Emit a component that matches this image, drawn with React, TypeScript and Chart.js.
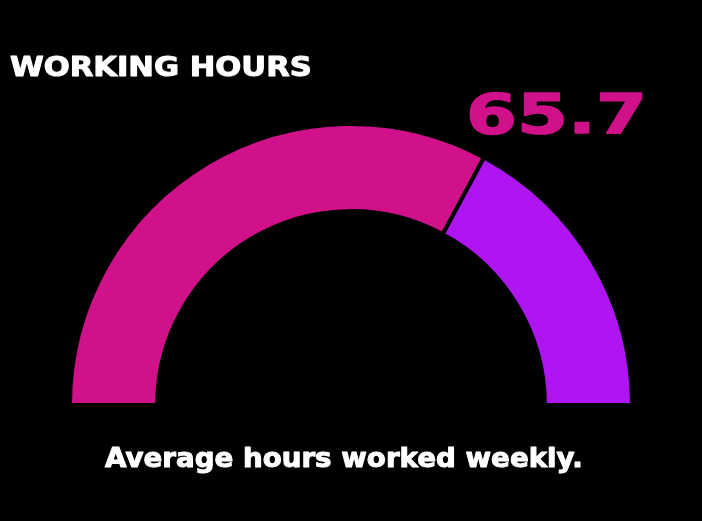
import React, { useEffect, useLayoutEffect, useRef, useState } from "react";
import { Chart, registerables } from "chart.js";

Chart.register(...registerables);

const segmentLabels = ["Hours worked", "Remaining"];
const segmentValues = [65.7, 34.3];
const segmentColors = ["#D0118A", "#AE15F1"];
const titleText = "WORKING HOURS";
const valueText = "65.7";
const captionText = "Average hours worked weekly.";

const FONT = "'DejaVu Sans', sans-serif";

function StretchText(props: {
  x: number;
  y: number;
  width: number;
  size: number;
  color: string;
  text: string;
  stroke?: number;
}) {
  const ref = useRef<SVGTextElement | null>(null);
  const [scale, setScale] = useState(1);
  useLayoutEffect(() => {
    if (!ref.current) return;
    const w = ref.current.getComputedTextLength();
    if (w > 0) setScale(props.width / w);
  }, [props.text, props.width]);
  return (
    <g transform={`translate(${props.x},${props.y}) scale(${scale},1)`}>
      <text
        ref={ref}
        x={0}
        y={0}
        fill={props.color}
        stroke={props.color}
        strokeWidth={props.stroke ?? 0}
        strokeLinejoin="round"
        fontFamily={FONT}
        fontWeight={700}
        fontSize={props.size}
      >
        {props.text}
      </text>
    </g>
  );
}

export default function App() {
  const canvasRef = useRef<HTMLCanvasElement | null>(null);

  useEffect(() => {
    if (!canvasRef.current) return;
    const chart = new Chart(canvasRef.current, {
      type: "doughnut",
      data: {
        labels: segmentLabels,
        datasets: [
          {
            data: segmentValues,
            backgroundColor: segmentColors,
            borderColor: "#000000",
            borderWidth: 4,
            hoverOffset: 0,
            offset: 0,
            radius: 281,
          } as any,
        ],
      },
      options: {
        animation: false,
        responsive: true,
        maintainAspectRatio: false,
        rotation: -90,
        circumference: 180,
        cutout: "69%",
        layout: { padding: { left: 72, right: 72, top: 124, bottom: 116 } },
        plugins: {
          legend: { display: false },
          tooltip: { enabled: false },
        },
      },
    });
    return () => chart.destroy();
  }, []);

  return (
    <div
      style={{
        position: "fixed",
        left: 0,
        top: 0,
        width: 702,
        height: 521,
        background: "#000",
        overflow: "hidden",
      }}
    >
      <div style={{ position: "absolute", left: 0, top: 0, width: 702, height: 521 }}>
        <canvas ref={canvasRef} />
      </div>
      <svg
        width={702}
        height={521}
        style={{ position: "absolute", left: 0, top: 0, pointerEvents: "none" }}
      >
        <StretchText x={10} y={76} width={302} size={26} color="#ffffff" text={titleText} stroke={1} />
        <StretchText x={466} y={133} width={181} size={56} color="#D0118A" text={valueText} stroke={1.5} />
        <StretchText x={105} y={467} width={478} size={26} color="#ffffff" text={captionText} stroke={1} />
      </svg>
    </div>
  );
}
